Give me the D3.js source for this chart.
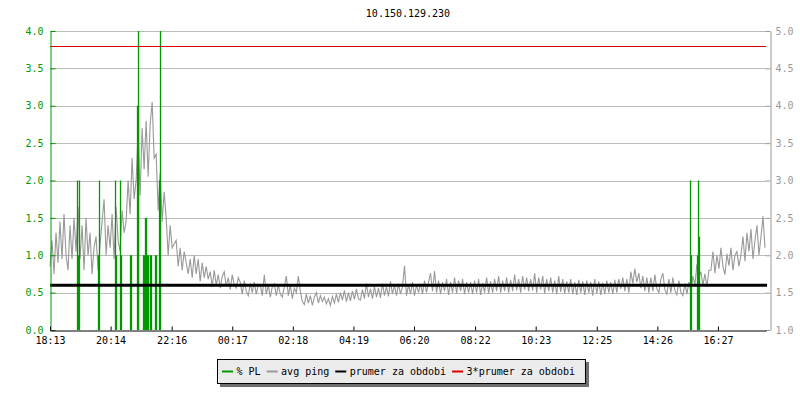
<!DOCTYPE html>
<html>
<head>
<meta charset="utf-8">
<script src="https://cdn.jsdelivr.net/npm/d3@7"></script>
<style>
body { margin: 0; background: #fff; }
text { font-family: "DejaVu Sans Mono", "Liberation Mono", monospace; font-size: 10px; }
</style>
</head>
<body>
<svg width="800" height="400"></svg>
<script>
var title = "10.150.129.230";

// x axis labels (clock time), span is ~1430 minutes starting 18:13
var timeLabels = ["18:13", "20:14", "22:16", "00:17", "02:18", "04:19", "06:20", "08:22", "10:23", "12:25", "14:26", "16:27"];
var spanMinutes = 1430;

var plTicks = [0.0, 0.5, 1.0, 1.5, 2.0, 2.5, 3.0, 3.5, 4.0];
var pingTicks = [1.0, 1.5, 2.0, 2.5, 3.0, 3.5, 4.0, 4.5, 5.0];

// avg ping (ms), one sample every 4 minutes
var pingStep = 4;
var avgPing = [
    1.85, 2.2, 1.75, 2.3, 1.9, 2.45, 1.95, 2.55, 2.0, 1.8, 2.4, 1.95, 2.5,
    2.05, 2.65, 1.95, 2.4, 1.8, 2.5, 2.0, 2.3, 1.75, 2.1, 2.25, 1.8, 2.15, 2.45, 2.75, 2.0, 2.4,
    2.1, 2.55, 1.95, 2.65, 2.2, 2.05, 2.6, 2.3,
    2.45, 3.0, 2.55, 3.3, 2.75,
    3.0, 3.65, 2.8, 3.7, 3.15, 3.8, 3.05, 3.75, 4.05, 3.3,
    3.35, 2.6, 3.1, 2.45, 2.85,
    2.5, 2.0, 2.4, 2.1, 2.15,
    2.2, 1.85, 2.1, 1.8, 2.05, 1.9, 1.75,
    1.95, 1.7, 2.0, 1.75, 1.95, 1.65, 1.9, 1.7, 1.85, 1.68,
    1.78, 1.58, 1.8, 1.6, 1.74, 1.56, 1.72, 1.78, 1.58, 1.7, 1.54, 1.74, 1.6, 1.56, 1.7,
    1.64, 1.48, 1.66, 1.52, 1.46, 1.62, 1.5, 1.64, 1.48, 1.6,
    1.6, 1.46, 1.74, 1.48, 1.6, 1.44, 1.58, 1.62, 1.46, 1.6, 1.48, 1.44, 1.58, 1.72, 1.46, 1.6, 1.42, 1.56, 1.5, 1.72,
    1.52, 1.38, 1.34, 1.48, 1.36, 1.46, 1.33, 1.44, 1.5, 1.36,
    1.46, 1.38, 1.44, 1.35, 1.42, 1.33, 1.45, 1.36, 1.48, 1.37, 1.5, 1.4, 1.53, 1.38, 1.5, 1.39, 1.52, 1.41, 1.55, 1.42, 1.4, 1.54, 1.42, 1.62, 1.44,
    1.55, 1.42, 1.58, 1.44, 1.56, 1.43, 1.62, 1.46, 1.58, 1.45, 1.65, 1.48, 1.6, 1.46, 1.62, 1.48, 1.58, 1.86, 1.46, 1.6, 1.48, 1.64, 1.46, 1.6, 1.5,
    1.62, 1.48, 1.66, 1.5, 1.64, 1.76, 1.52, 1.79, 1.5, 1.66, 1.48, 1.64, 1.52, 1.68, 1.47, 1.64, 1.5, 1.7, 1.49, 1.66, 1.52, 1.68, 1.48, 1.64, 1.5,
    1.64, 1.48, 1.66, 1.5, 1.68, 1.47, 1.63, 1.5, 1.7, 1.49,
    1.65, 1.5, 1.68, 1.52, 1.72, 1.5, 1.66, 1.52, 1.7, 1.5,
    1.67, 1.52, 1.74, 1.53, 1.68, 1.5, 1.72, 1.54, 1.7, 1.52,
    1.68, 1.53, 1.76, 1.5, 1.7, 1.54, 1.72, 1.49, 1.68, 1.52,
    1.7, 1.5, 1.66, 1.48, 1.72, 1.51, 1.68, 1.49, 1.65, 1.5,
    1.68, 1.48, 1.64, 1.47, 1.67, 1.5, 1.65, 1.47, 1.66, 1.5,
    1.64, 1.46, 1.68, 1.49, 1.65, 1.47, 1.63, 1.48, 1.66, 1.5,
    1.64, 1.48, 1.67, 1.5, 1.68,
    1.55, 1.7, 1.52, 1.68, 1.5, 1.78, 1.62, 1.82, 1.64, 1.76, 1.56, 1.72, 1.52, 1.7, 1.5,
    1.7, 1.52, 1.74, 1.55, 1.5, 1.68, 1.76, 1.54, 1.48, 1.68, 1.5, 1.7, 1.53, 1.47, 1.66, 1.5, 1.46, 1.62, 1.48, 1.64,
    1.52, 1.72, 1.6, 1.88, 1.7,
    1.78, 1.6, 1.75, 1.58, 1.8,
    1.8, 2.05, 1.76, 2.0, 1.82, 2.1, 1.85, 1.74, 2.02, 1.86, 2.1, 1.8, 2.0, 2.05, 1.85,
    2.0, 2.25, 1.92, 2.3, 2.05, 2.35, 1.95, 2.2, 2.4, 2.0, 2.25, 2.52, 2.1
];

// packet loss (%), minute offset from start and value
var plMinutes = [54.5, 56.5, 58.5, 95, 97, 130, 132, 140, 142, 159, 161, 173, 175, 176,
                 185, 187, 189.5, 191.5, 194.5, 196.5, 200.5, 202.5, 210.5, 212.5, 218, 220,
                 1279, 1281, 1293, 1294, 1295.5];
var plValues  = [2.0, 1.0, 2.0, 1.0, 2.0, 2.0, 1.0, 2.0, 1.0, 1.0, 1.0, 3.0, 4.0, 3.0,
                 1.0, 1.0, 1.5, 1.5, 1.0, 1.0, 1.0, 1.0, 1.0, 1.0, 2.0, 4.0,
                 2.0, 1.0, 1.0, 2.0, 1.25];

var prumer = 1.6;   // period average (ms)

var legendNames = ["% PL", "avg ping", "prumer za obdobi", "3*prumer za obdobi"];
var legendColors = ["#009900", "#999999", "#000000", "#dd0000"];

var svg = d3.select("svg");
var plotL = 50, plotR = 766, plotT = 31, plotB = 330;

var x = d3.scaleLinear().domain([0, spanMinutes]).range([plotL, plotR]);
var yPL = d3.scaleLinear().domain([0, 4]).range([plotB, plotT]);
var yPing = d3.scaleLinear().domain([1, 5]).range([plotB, plotT]);

function labelMinutes(s) {
    var p = s.split(":"), m = +p[0] * 60 + +p[1] - (18 * 60 + 13);
    if (m < 0) m += 1440;
    return m;
}
var timeTicks = timeLabels.map(labelMinutes);

// title
svg.append("text")
    .attr("x", (plotL + plotR) / 2)
    .attr("y", 17)
    .attr("text-anchor", "middle")
    .attr("fill", "#000")
    .text(title);

// grid
svg.append("g")
    .selectAll("line")
    .data(plTicks.filter(function(d) { return d > 0; }))
    .enter().append("line")
        .attr("x1", plotL).attr("x2", plotR)
        .attr("y1", function(d) { return Math.round(yPL(d)) + 0.5; })
        .attr("y2", function(d) { return Math.round(yPL(d)) + 0.5; })
        .attr("stroke", "#bbbbbb");

// avg ping line
var pingLine = d3.line()
    .x(function(d, i) { return x(i * pingStep); })
    .y(function(d) { return yPing(d); });
svg.append("path")
    .datum(avgPing)
    .attr("d", pingLine)
    .attr("fill", "none")
    .attr("stroke", "#999999")
    .attr("stroke-width", 1.1);

// packet loss bars
svg.append("g")
    .selectAll("line")
    .data(plMinutes)
    .enter().append("line")
        .attr("x1", function(d) { return Math.round(x(d)) + 0.5; })
        .attr("x2", function(d) { return Math.round(x(d)) + 0.5; })
        .attr("y1", yPL(0))
        .attr("y2", function(d, i) { return yPL(plValues[i]); })
        .attr("stroke", "#009900")
        .attr("stroke-width", 1.3);

// average and 3*average
svg.append("line")
    .attr("x1", plotL).attr("x2", plotR + 1)
    .attr("y1", yPing(prumer)).attr("y2", yPing(prumer))
    .attr("stroke", "#000").attr("stroke-width", 3);
svg.append("line")
    .attr("x1", plotL).attr("x2", plotR)
    .attr("y1", Math.round(yPing(3 * prumer)) + 0.5).attr("y2", Math.round(yPing(3 * prumer)) + 0.5)
    .attr("stroke", "#dd0000").attr("stroke-width", 1);

// left axis (PL, green)
var minorPL = d3.range(0, 41).map(function(d) { return d / 10; });
var gL = svg.append("g").attr("transform", "translate(" + (plotL + 0.5) + ",0)");
gL.call(d3.axisLeft(yPL).tickValues(minorPL).tickSize(-3).tickFormat(""));
gL.call(d3.axisLeft(yPL).tickValues(plTicks).tickSize(-5).tickSizeOuter(0).tickPadding(7).tickFormat(d3.format(".1f")));
gL.selectAll("path, line").attr("stroke", "#009900");
gL.selectAll("text").attr("fill", "#009900").style("font-size", "10px").style("font-family", "DejaVu Sans Mono");

// right axis (ping, gray)
var minorPing = d3.range(10, 51).map(function(d) { return d / 10; });
var gR = svg.append("g").attr("transform", "translate(" + (plotR + 4.5) + ",0)");
gR.call(d3.axisRight(yPing).tickValues(minorPing).tickSize(-3).tickFormat(""));
gR.call(d3.axisRight(yPing).tickValues(pingTicks).tickSize(-5).tickSizeOuter(0).tickPadding(5).tickFormat(d3.format(".1f")));
gR.selectAll("path, line").attr("stroke", "#999999");
gR.selectAll("text").attr("fill", "#999999").style("font-size", "10px").style("font-family", "DejaVu Sans Mono");

// bottom axis (time)
var gB = svg.append("g").attr("transform", "translate(0," + (plotB + 0.5) + ")");
gB.call(d3.axisBottom(x).tickValues(timeTicks).tickSize(-4).tickSizeOuter(0).tickPadding(6)
    .tickFormat(function(d, i) { return timeLabels[i]; }));
gB.selectAll("path, line").attr("stroke", "#000");
gB.selectAll("text").attr("fill", "#000").style("font-size", "10px").style("font-family", "DejaVu Sans Mono");

// legend
var legend = svg.append("g");
var shadow = legend.append("rect").attr("fill", "#6e6e6e");
var box = legend.append("rect").attr("fill", "#ebebeb").attr("stroke", "#000").attr("stroke-width", 1);
var lx = 222, ly = 371.5;
legendNames.forEach(function(name, i) {
    legend.append("line")
        .attr("x1", lx).attr("x2", lx + 11)
        .attr("y1", ly).attr("y2", ly)
        .attr("stroke", legendColors[i]).attr("stroke-width", 2);
    var t = legend.append("text")
        .attr("x", lx + 14.5)
        .attr("y", 374.5)
        .attr("fill", "#000")
        .text(name);
    lx = lx + 14.5 + t.node().getComputedTextLength() + 6;
});
var boxW = lx - 6 + 10 - 217;
box.attr("x", 217.5).attr("y", 359.5).attr("width", boxW).attr("height", 24);
shadow.attr("x", 220).attr("y", 362).attr("width", boxW + 1).attr("height", 25);
</script>
</body>
</html>
